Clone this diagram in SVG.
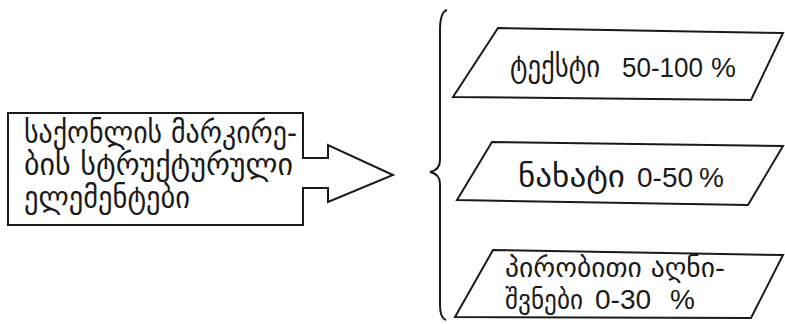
<svg xmlns="http://www.w3.org/2000/svg" width="785" height="324" viewBox="0 0 785 324">
<style>
.ln{fill:none;stroke:#1a1a1a;stroke-width:2;stroke-linejoin:miter}
.t{font-family:"DejaVu Sans","Liberation Sans",sans-serif;fill:#1a1a1a;font-size:30px}
.s{font-size:27px}
.n{font-family:"Liberation Sans","DejaVu Sans",sans-serif;fill:#1a1a1a;font-size:28px}
</style>
<rect width="785" height="324" fill="#ffffff"/>
<g id="source">
<path class="ln" d="M8,113 L303,113 L303,158 L328,158 L328,145 L393,175 L328,202 L328,188 L303,188 L303,225 L8,225 Z"/>
<text class="t" x="24" y="143" textLength="273" lengthAdjust="spacingAndGlyphs">საქონლის მარკირე-</text>
<text class="t" x="24" y="175" textLength="269" lengthAdjust="spacingAndGlyphs">ბის სტრუქტურული</text>
<text class="t" x="24" y="208" textLength="166" lengthAdjust="spacingAndGlyphs">ელემენტები</text>
</g>
<g id="connectors">
<path class="ln" d="M447,10 Q440,12 440,30 L440,160 Q440,170 430,172 Q440,174 440,184 L440,305 Q440,318 446,320"/>
</g>
<g id="text-share">
<path class="ln" d="M498,28 L783,33 L751,100 L453,97 Z"/>
<text class="t" x="510" y="77" textLength="90" lengthAdjust="spacingAndGlyphs">ტექსტი</text>
<text class="n" x="622" y="77" textLength="81" lengthAdjust="spacingAndGlyphs">50-100</text>
<text class="n" x="711" y="77">%</text>
</g>
<g id="image-share">
<path class="ln" d="M492,142 L783,146 L748,205 L457,200 Z"/>
<text class="t" x="518" y="187" textLength="107" lengthAdjust="spacingAndGlyphs">ნახატი</text>
<text class="n" x="637" y="187">0-50</text>
<text class="n" x="699" y="187">%</text>
</g>
<g id="symbols-share">
<path class="ln" d="M493,250 L783,255 L751,318 L455,317 Z"/>
<text class="t s" x="505" y="277" textLength="220" lengthAdjust="spacingAndGlyphs">პირობითი აღნი-</text>
<text class="t s" x="505" y="309" textLength="78" lengthAdjust="spacingAndGlyphs">შვნები</text>
<text class="n" x="595" y="309">0-30</text>
<text class="n" x="670" y="309">%</text>
</g>
</svg>
